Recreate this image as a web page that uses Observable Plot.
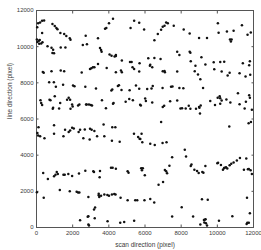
<!DOCTYPE html>
<html>
<head>
<meta charset="utf-8">
<script src="https://cdn.jsdelivr.net/npm/d3@7"></script>
<script src="https://cdn.jsdelivr.net/npm/@observablehq/plot@0.6"></script>
<style>
  html, body { margin: 0; padding: 0; background: #fff; }
  #chart { width: 261px; height: 250px; }
</style>
</head>
<body>
<div id="chart"></div>
<script>
// Point positions (scan direction, line direction), in pixels of the imaged scene
const scanX = [
  // top band
  40,90,200,310,420, 310, 20,130,180,260,150,330,50,
  880,1010,1100,1160, 1320,1530,1650,1840,1880,
  610,830,920,880,970,1340,1600,
  2560,2790,2720,3400, 3510,3570,3600,
  3790,3860,4010,4230,
  4040,4150,4320,4390,4390,4720,
  5200,5400,5680, 5260,5310,5400, 5170,5700,
  5950,6520,
  6710,6890,6980,7080,7170,7260,7590,
  6180,6270,6290,6400, 6520,6860,
  6980,7080,7100,
  7780,7900, 7780,
  8140,8470, 8470,8510,8530,
  8790,8750,
  8990,8930,9060,9120,9340,9430,
  9800,9830,
  10030,10070,10160,10240,10380,
  10530,10700,10790,10750,
  10570,10680,
  10900,11230,11360,11560,11670,11850,
  11410,11760,11800,11820,
  // 8500-8900 left
  350,400,830,1340,1530,2500,2960,3030,3120,3200,3400,3880,4390,4670,4720,5680,
  // 6500-8000 band
  220,260,310, 720,770, 700,960,1070, 900,920,1010,
  1250,1310,1470, 1690,1780,1860, 1880,1970,2000, 2020,2100,
  2300,2370, 2700,
  2740,2780,2900,3000,3070,
  3290,3620,3840, 4140,4190, 4260,4230,
  4500,4560,4700,
  4930,5130,5150,5330,5500,
  5730,5770,5680, 6010,6050,6120,
  6360,6430,6400, 6970,6980,7060,
  7390,7440,7520,
  7780,7900,7960,8050,8120,8250,
  8420,8510,8820,
  8990,9010,9040,9080,
  9210,9610,9870,
  10020,10130,10160,10160,10240,
  10500,10720,11140,11230,
  11510,11580,11800,11760,11910,
  // 4500-6000 band
  110,50,90,200,440, 970,970,
  1490,1580,1780,1860,1970,2060,
  2330,2410,2590,2670,
  2960,3050,3200,2940,3350,
  3750,3710,4190,4360,4170,4600,
  5390,5620,5700,5810,5850,5740,
  6290,6540,6890,6970,7190,
  10660,11860,11730,
  // 2300-4300 band
  370,630,970,1050,1120,1180,
  1490,1560,1760,1970,2350,2700,
  3140,3180,3510,3490,
  4120,4210,4390,
  5040,5090,
  5790,5830,5880,5990,
  6750,7000,
  7100,7170,7220,7350,7500,
  8200,8270,
  8530,8570,8730,8880,8970,
  9170,9230,9340,
  10000,10040,10200,
  10310,10370,10400,10480,10550,
  10680,10770,10900,11080,11250,
  11470,11690,11600,11740,11840,11910,
  // 1000-2100 band
  20,400,1290,1840,2220,2300,2370,
  2870,3440,3440,3470,3570,
  3750,3920,4010,4170,4300,4370,
  4650,5040,5460,5570,5970,6290,6510,
  7500,8030,8660,9150,9470,11640,11800,10830,
  // bottom
  2410,2830,2870,2870,2900,
  3180,3240,3220,
  3930,4630,4850,5400,
  9060,9260,9300,9350,9280,9370,9430,
  10090,
  11620,11660,11740
];
const lineY = [
  // top band
  11080,11300,11340,11430,11450, 10750, 10390,10330,10370,10180,10160,10240,10260,
  11250,11140,11030,10970, 10750,10700,10590,10460,10380,
  10020,9940,9830,9650,9630,9960,9960,
  10090,10130,10600,10460, 9920,9820,9720,
  10990,11030,11300,11540,
  9560,9500,9450,9540,9480,9230,
  11030,11430,11320, 9150,8860,8770, 9150,9080,
  10950,10360,
  10700,10940,11100,11160,11340,11290,11160,
  9360,8950,9000,8860, 9370,9320,
  8640,8660,8590,
  9720,9540, 8620,
  10950,10730, 9720,9670,9190,
  8950,8640,
  10480,8460,8200,9410,9010,10480,
  9140,8750,
  11290,10770,9150,8620,9170,
  10840,10400,10400,10290,
  8400,8560,
  10880,8530,11190,8350,10660,10790,
  9080,8970,9190,8450,
  // 8500-8900 left
  8600,8560,8640,8680,8640,8570,8770,8800,8860,8860,9040,8820,8580,8680,8580,8620,
  // 6500-8000 band
  7040,6890,6780, 7060,7040, 8030,8030,7790, 6560,6620,7260,
  6580,6890,7900, 7060,7170,7060, 6560,6800,6690, 7850,7810,
  6750,6800, 7780,
  6800,6800,6800,6770,6750,
  7680,7040,6600, 7570,7630, 6880,6840,
  7830,7870,7600,
  6950,7100,7590,7040,7850,
  6790,6750,7670, 7140,6990,7660,
  7680,7830,6910, 7720,6660,6730,
  6980,7790,7800,
  7020,7720,6580,6600,7700,6580,
  6730,6560,6560,
  6660,6620,6300,6750,
  7720,7000,6780,
  7170,7260,7150,6840,7020,
  7080,6910,7430,6820,
  6580,6950,7170,7320,6510,
  // 4500-6000 band
  5550,5220,5090,5040,4940, 5660,5180,
  5050,5400,5280,5370,5510,5480,
  5280,5400,4940,5420,
  5460,5400,5330,4870,5040,
  5040,5700,5550,5550,4800,4740,
  5180,5000,4910,5180,4720,4900,
  4630,4560,5830,4670,4720,
  5590,5840,5770,
  // 2300-4300 band
  3010,2680,2830,2920,3070,2960,
  2920,2920,2960,2850,2980,3140,
  3110,3070,3120,2780,
  3310,3310,3250,
  3110,3030,
  3270,3160,3270,2890,
  2370,2520,
  3180,3110,3000,3420,3880,
  4300,3930,
  3400,3490,3200,3120,3010,
  3070,3030,3400,
  3550,3580,3460,
  3200,3270,3310,3330,3260,
  3440,3530,3600,3710,3840,
  3200,3220,3820,3230,3160,2960,
  // 1000-2100 band
  1950,1650,2080,2000,1980,1930,1930,
  1690,1870,1780,1690,1760,
  1820,1800,1760,1820,1850,1820,
  1640,1510,1510,1510,1510,1580,1380,
  610,1120,610,1560,1540,1640,790,620,
  // bottom
  400,590,620,160,110,
  990,1100,510,
  350,260,310,370,
  170,420,430,460,280,240,110,
  370,
  200,260,260
];
const xTicks = [0, 2000, 4000, 6000, 8000, 10000, 12000];
const yTicks = [0, 2000, 4000, 6000, 8000, 10000, 12000];
const xLabel = "scan direction (pixel)";
const yLabel = "line direction (pixel)";

const points = scanX.map((x, i) => ({x, y: lineY[i]}));
const fmt = d => String(d);

const chart = Plot.plot({
  width: 261,
  height: 250,
  marginLeft: 36,
  marginRight: 8,
  marginTop: 10,
  marginBottom: 23,
  style: {fontFamily: "'Liberation Sans', Arial, sans-serif", fontSize: "6px", color: "#3a3a3a", background: "#fff"},
  x: {domain: [0, 12000]},
  y: {domain: [0, 12000]},
  marks: [
    Plot.frame({stroke: "#555", strokeWidth: 1}),
    Plot.axisX(xTicks, {anchor: "bottom", tickSize: 0, tickPadding: 3, tickFormat: fmt, label: null, fill: "#3a3a3a"}),
    Plot.axisY(yTicks, {anchor: "left", tickSize: 0, tickPadding: 3, tickFormat: fmt, label: null, fill: "#3a3a3a"}),
    Plot.axisX(xTicks, {anchor: "bottom", tickSize: -2.5, tickFormat: () => "", label: null, stroke: "#555"}),
    Plot.axisX(xTicks, {anchor: "top", tickSize: -2.5, tickFormat: () => "", label: null, stroke: "#555"}),
    Plot.axisY(yTicks, {anchor: "left", tickSize: -2.5, tickFormat: () => "", label: null, stroke: "#555"}),
    Plot.axisY(yTicks, {anchor: "right", tickSize: -2.5, tickFormat: () => "", label: null, stroke: "#555"}),
    Plot.dot(points, {x: "x", y: "y", r: 1.25, fill: "#111", stroke: "none"}),
    Plot.text([xLabel], {frameAnchor: "bottom", dy: 19, text: d => d, fontSize: 6.5, fill: "#3a3a3a"}),
    Plot.text([yLabel], {frameAnchor: "left", dx: -27, rotate: -90, text: d => d, fontSize: 6.5, fill: "#3a3a3a"})
  ]
});
document.getElementById("chart").appendChild(chart);
</script>
</body>
</html>
